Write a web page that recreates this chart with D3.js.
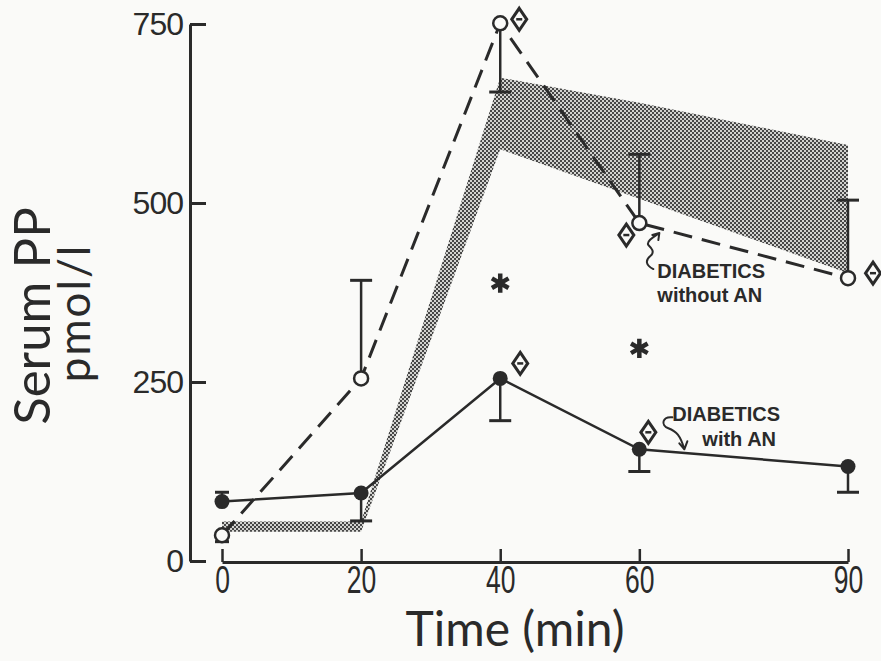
<!DOCTYPE html>
<html>
<head>
<meta charset="utf-8">
<script src="https://cdn.jsdelivr.net/npm/d3@7"></script>
<style>
  html, body { margin: 0; padding: 0; background: #fafaf8; }
  svg { display: block; }
</style>
</head>
<body>
<svg id="chart" width="881" height="661"></svg>
<script>
// Sampling times (min) and axis ticks
const times = [0, 20, 40, 60, 90];
const xTicks = [0, 20, 40, 60, 90];
const yTicks = [0, 250, 500, 750];

// Serum PP (pmol/l): diabetics without autonomic neuropathy, mean and end of SE bar
const withoutAN = [36, 255, 751, 472, 395];
const withoutANErr = [27, 392, 655, 568, 504];

// Diabetics with autonomic neuropathy, mean and end of SE bar
const withAN = [83, 95, 255, 156, 132];
const withANErr = [96, 56, 196, 125, 96];

// Healthy control range (shaded band)
const controlUpper = [55, 55, 675, 640, 581];
const controlLower = [41, 41, 575, 506, 402];

// Significance marks
const diamondWithout = [40, 60, 90];
const diamondWith = [40, 60];
const asteriskTimes = [40, 60];
const asteriskValues = [388, 297];

const ink = "#2a2a2a";
const paper = "#fafaf8";

const svg = d3.select("#chart");
svg.append("rect").attr("width", 881).attr("height", 661).attr("fill", paper);

const x = d3.scaleLinear().domain([0, 90]).range([222, 848]);
const y = d3.scaleLinear().domain([0, 750]).range([561, 24]);

// halftone stipple for the control band
const defs = svg.append("defs");
const pat = defs.append("pattern")
  .attr("id", "stipple")
  .attr("patternUnits", "userSpaceOnUse")
  .attr("width", 4).attr("height", 4);
pat.append("rect").attr("width", 4).attr("height", 4).attr("fill", "#d2d2cf");
pat.append("rect").attr("x", 0).attr("y", 0).attr("width", 2).attr("height", 2).attr("fill", "#474747");
pat.append("rect").attr("x", 2).attr("y", 2).attr("width", 2).attr("height", 2).attr("fill", "#474747");

const idx = d3.range(times.length);

svg.append("path")
  .datum(idx)
  .attr("fill", "url(#stipple)")
  .attr("d", d3.area()
    .x(i => x(times[i]))
    .y0(i => y(controlLower[i]))
    .y1(i => y(controlUpper[i])));

// Y axis: ticks point inward, labels on the left
const yAxis = svg.append("g")
  .attr("transform", "translate(190,0)")
  .call(d3.axisLeft(y).tickValues(yTicks).tickSizeInner(-16).tickSizeOuter(0).tickPadding(7).tickFormat(d3.format("d")));
yAxis.select(".domain").attr("stroke", ink).attr("stroke-width", 3);
yAxis.selectAll(".tick line").attr("stroke", ink).attr("stroke-width", 3);
yAxis.selectAll(".tick text")
  .attr("fill", ink)
  .style("font-family", "'Liberation Sans', Arial, sans-serif")
  .style("font-size", "32px")
  .style("letter-spacing", "-1px");

// X axis: ticks point upward
const xAxis = svg.append("g")
  .attr("transform", "translate(0,562)")
  .call(d3.axisBottom(x).tickValues(xTicks).tickSizeInner(-13).tickSizeOuter(0).tickPadding(3));
xAxis.select(".domain").attr("stroke", ink).attr("stroke-width", 3);
xAxis.selectAll(".tick line").attr("stroke", ink).attr("stroke-width", 2.5);
xAxis.selectAll(".tick text")
  .attr("fill", ink)
  .attr("transform", "scale(0.68,1)")
  .style("font-family", "'Liberation Sans', Arial, sans-serif")
  .style("font-size", "39px");

// Axis titles
svg.append("text")
  .attr("x", 515).attr("y", 646)
  .attr("text-anchor", "middle")
  .attr("fill", ink)
  .style("font-family", "Lato, 'Open Sans', sans-serif")
  .style("font-size", "48px")
  .text("Time (min)");

svg.append("text")
  .attr("transform", "translate(50,316) rotate(-90)")
  .attr("text-anchor", "middle")
  .attr("fill", ink)
  .style("font-family", "Lato, 'Open Sans', sans-serif")
  .style("font-size", "51px")
  .text("Serum PP");

svg.append("text")
  .attr("transform", "translate(90,313) rotate(-90)")
  .attr("text-anchor", "middle")
  .attr("fill", ink)
  .style("font-family", "Lato, 'Open Sans', sans-serif")
  .style("font-size", "44px")
  .style("letter-spacing", "2px")
  .text("pmol/l");

const line = vals => d3.line().x(i => x(times[i])).y(i => y(vals[i]))(idx);

// Error bars
function errorBars(vals, errs) {
  const g = svg.append("g").attr("stroke", ink).attr("fill", "none");
  idx.forEach(i => {
    const cx = x(times[i]);
    const half = times[i] === 0 ? 7 : 11;
    g.append("line").attr("x1", cx).attr("x2", cx)
      .attr("y1", y(vals[i])).attr("y2", y(errs[i])).attr("stroke-width", 2.5);
    g.append("line").attr("x1", cx - half).attr("x2", cx + half)
      .attr("y1", y(errs[i])).attr("y2", y(errs[i])).attr("stroke-width", 3);
  });
}
errorBars(withoutAN, withoutANErr);
errorBars(withAN, withANErr);

// Series lines
svg.append("path")
  .attr("d", line(withoutAN))
  .attr("fill", "none").attr("stroke", ink)
  .attr("stroke-width", 3).attr("stroke-dasharray", "19,10");

svg.append("path")
  .attr("d", line(withAN))
  .attr("fill", "none").attr("stroke", ink)
  .attr("stroke-width", 2.5);

// Points
svg.append("g").selectAll("circle").data(idx).join("circle")
  .attr("cx", i => x(times[i])).attr("cy", i => y(withoutAN[i]))
  .attr("r", 7).attr("fill", paper).attr("stroke", ink).attr("stroke-width", 2.5);

svg.append("g").selectAll("circle").data(idx).join("circle")
  .attr("cx", i => x(times[i])).attr("cy", i => y(withAN[i]))
  .attr("r", 7.5).attr("fill", ink);

// Significance diamonds beside points
const diamondOffsetWithout = { 40: [19, -4], 60: [-13, 12], 90: [25, -5] };
const diamondOffsetWith = { 40: [20, -15], 60: [9, -17] };

function diamond(cx, cy) {
  const g = svg.append("g").attr("transform", `translate(${cx},${cy})`);
  g.append("path").attr("d", "M0,-11L7.5,0L0,11L-7.5,0Z")
    .attr("fill", paper).attr("stroke", ink).attr("stroke-width", 3);
  g.append("line").attr("x1", -3).attr("x2", 3).attr("y1", 0).attr("y2", 0)
    .attr("stroke", ink).attr("stroke-width", 2.5);
}
diamondWithout.forEach(t => {
  const i = times.indexOf(t), o = diamondOffsetWithout[t];
  diamond(x(t) + o[0], y(withoutAN[i]) + o[1]);
});
diamondWith.forEach(t => {
  const i = times.indexOf(t), o = diamondOffsetWith[t];
  diamond(x(t) + o[0], y(withAN[i]) + o[1]);
});

// Asterisks
asteriskTimes.forEach((t, k) => {
  svg.append("path")
    .attr("transform", `translate(${x(t)},${y(asteriskValues[k])})`)
    .attr("d", d3.symbol(d3.symbolAsterisk, 260)())
    .attr("fill", "none").attr("stroke", ink).attr("stroke-width", 4.5);
});

// Group labels with curly arrows
const labelFont = "'Liberation Sans', Arial, sans-serif";
function label(lines, xs, ys) {
  lines.forEach((s, k) => {
    svg.append("text").attr("x", xs[k]).attr("y", ys[k])
      .attr("fill", ink)
      .style("font-family", labelFont).style("font-size", "20px").style("font-weight", "bold")
      .text(s);
  });
}

const p60a = [x(60), y(withoutAN[times.indexOf(60)])];
label(["DIABETICS", "without AN"], [p60a[0] + 18, p60a[0] + 18], [p60a[1] + 55, p60a[1] + 79]);
svg.append("path")
  .attr("transform", `translate(${p60a[0]},${p60a[1]})`)
  .attr("d", "M14,46C6,42 6,37 11,33C16,29 12,25 9,22C7,19 12,15 20,10M20,10L13,12M20,10L19,17")
  .attr("fill", "none").attr("stroke", ink).attr("stroke-width", 2).attr("stroke-linecap", "round");

const p60b = [x(60), y(withAN[times.indexOf(60)])];
label(["DIABETICS", "with AN"], [p60b[0] + 33, p60b[0] + 63], [p60b[1] - 28, p60b[1] - 3]);
svg.append("path")
  .attr("transform", `translate(${p60b[0]},${p60b[1]})`)
  .attr("d", "M33,-32C23,-33 21,-24 29,-21C37,-18 41,-14 45,0M45,0L40,-6M45,0L48,-8")
  .attr("fill", "none").attr("stroke", ink).attr("stroke-width", 2).attr("stroke-linecap", "round");
</script>
</body>
</html>
